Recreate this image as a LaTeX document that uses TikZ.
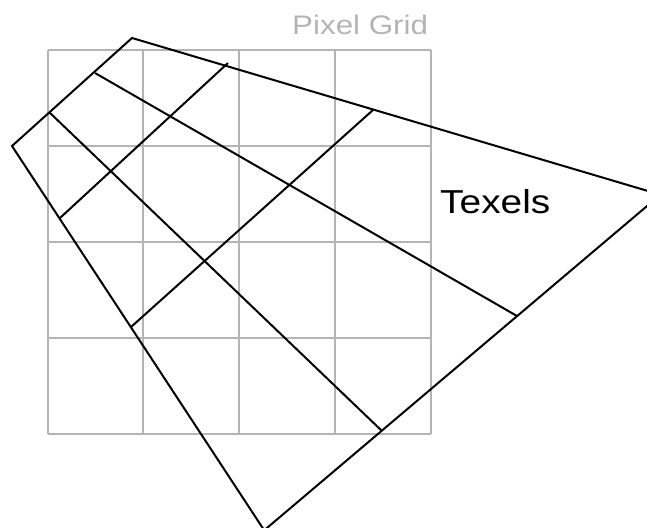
\documentclass[tikz,border=0pt]{standalone}
\usepackage{fontspec}
\setmainfont{Liberation Sans}
\newfontfamily\labelfont[FakeStretch=1.17]{Liberation Sans}
\definecolor{gridgray}{RGB}{180,180,180}

\begin{document}
\begin{tikzpicture}[x=1pt,y=-1pt,
  pixel/.style={draw=gridgray,line width=2pt},
  texel/.style={draw=black,line width=2pt,line join=miter}]
\useasboundingbox (0,0) rectangle (647,527);
\clip (0,0) rectangle (647,527);

% pixel grid, 4 x 4
\foreach \i in {0,...,4} {
  \draw[pixel] ({47.5+95.9*\i},50) -- ({47.5+95.9*\i},434);
  \draw[pixel] (47.5,{50+96*\i}) -- (431,{50+96*\i});
}
\node[anchor=base west,inner sep=0pt,text=gridgray,
  font=\labelfont\fontsize{26.8}{30}\selectfont] (gridlabel) at (292,35) {Pixel Grid};

% texel quad, 3 x 3
\coordinate (L) at (12,146);
\coordinate (T) at (132,38);
\coordinate (R) at (660.4,194.7);
\coordinate (B) at (264.2,530.3);
\draw[texel] (L) -- (T) -- (R) -- (B) -- cycle;

\draw[texel] (95,73) -- (517,316);
\draw[texel] (49,112) -- (382,431);
\draw[texel] (60,218) -- (228,63);
\draw[texel] (131,327) -- (373,110);

\node[anchor=base west,inner sep=0pt,
  font=\labelfont\fontsize{33.2}{36}\selectfont] (texlabel) at (440,213) {Texels};
\end{tikzpicture}
\end{document}
